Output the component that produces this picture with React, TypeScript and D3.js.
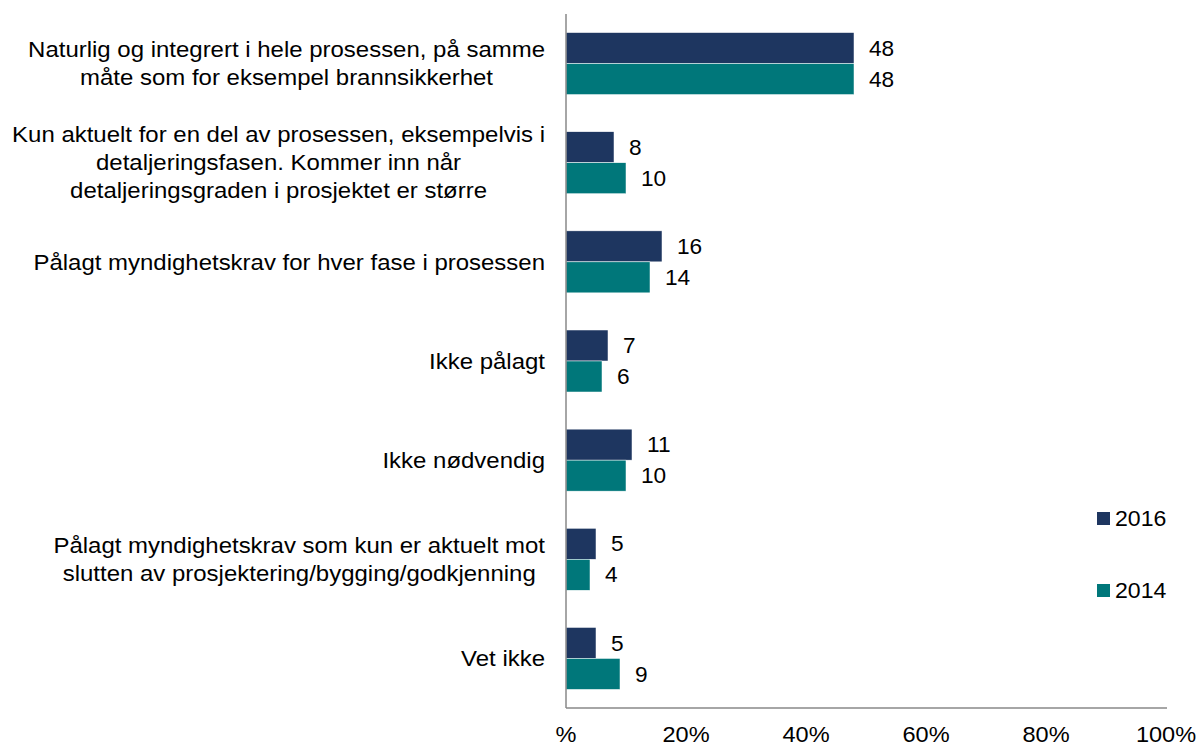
import React, { useEffect, useRef } from "react";
import * as d3 from "d3";

const categories: string[][] = [
  ["Naturlig og integrert i hele prosessen, på samme", "måte som for eksempel brannsikkerhet"],
  ["Kun aktuelt for en del av prosessen, eksempelvis i", "detaljeringsfasen. Kommer inn når", "detaljeringsgraden i prosjektet er større"],
  ["Pålagt myndighetskrav for hver fase i prosessen"],
  ["Ikke pålagt"],
  ["Ikke nødvendig"],
  ["Pålagt myndighetskrav som kun er aktuelt mot", "slutten av prosjektering/bygging/godkjenning"],
  ["Vet ikke"],
];
const values2016: number[] = [48, 8, 16, 7, 11, 5, 5];
const values2014: number[] = [48, 10, 14, 6, 10, 4, 9];
const seriesNames: string[] = ["2016", "2014"];
const xTicks: number[] = [0, 20, 40, 60, 80, 100];
const xTickLabels: string[] = ["%", "20%", "40%", "60%", "80%", "100%"];

const COLORS = ["#1E3660", "#00777A"];
const FONT = "'Liberation Sans', Arial, sans-serif";
const FS = 22;
const SX = 1.09;

export default function App() {
  const ref = useRef<SVGSVGElement>(null);
  useEffect(() => {
    const svg = d3.select(ref.current);
    svg.selectAll("*").remove();
    const left = 566, right = 1166, top = 14, bottom = 708;
    const x = d3.scaleLinear().domain([0, 100]).range([left, right]);
    const y = d3.scaleBand<number>().domain(d3.range(categories.length)).range([top, bottom]);
    const barH = 31;
    const seriesVals = [values2016, values2014];

    const g = svg.append("g");
    const addText = (px: number, py: number, s: string, anchor: string, sx = SX) =>
      g.append("text")
        .attr("transform", `translate(${px},${py}) scale(${sx},1)`)
        .attr("dy", "0.35em")
        .attr("font-family", FONT)
        .attr("font-size", FS)
        .attr("fill", "#000")
        .attr("text-anchor", anchor)
        .text(s);

    // bars
    seriesVals.forEach((vals, si) => {
      g.selectAll(null)
        .data(vals)
        .enter()
        .append("rect")
        .attr("x", x(0))
        .attr("y", (_d, i) => (y(i) as number) + y.bandwidth() / 2 - barH + si * barH)
        .attr("width", (d) => x(d) - x(0))
        .attr("height", barH)
        .attr("fill", COLORS[si])
        .attr("stroke", "#ffffff")
        .attr("stroke-width", 0.5);
      vals.forEach((d, i) => {
        addText(x(d) + 15, (y(i) as number) + y.bandwidth() / 2 - barH / 2 + si * barH, String(d), "start", 1.03);
      });
    });

    // axes lines
    g.append("line").attr("x1", left).attr("x2", left).attr("y1", top).attr("y2", bottom).attr("stroke", "#898989").attr("stroke-width", 1.5);
    g.append("line").attr("x1", left).attr("x2", right + 1).attr("y1", bottom).attr("y2", bottom).attr("stroke", "#898989").attr("stroke-width", 1.5);

    // x tick labels
    xTicks.forEach((d, i) => addText(x(d), 734, xTickLabels[i], "middle", 1.07));

    // category labels
    const lineH = 28;
    const labelRight = 545;
    categories.forEach((lines, i) => {
      const cy = (y(i) as number) + y.bandwidth() / 2;
      const texts = lines.map((ln, j) => addText(0, cy + (j - (lines.length - 1) / 2) * lineH, ln, "middle"));
      const widths = texts.map((t) => (t.node() as SVGTextElement).getComputedTextLength() * SX);
      const maxW = d3.max(widths) || 0;
      texts.forEach((t, j) =>
        t.attr("transform", `translate(${labelRight - maxW / 2},${cy + (j - (lines.length - 1) / 2) * lineH}) scale(${SX},1)`)
      );
    });

    // legend
    const legendY = [518, 590];
    seriesNames.forEach((name, si) => {
      g.append("rect").attr("x", 1097).attr("y", legendY[si] - 6).attr("width", 13).attr("height", 13).attr("fill", COLORS[si]);
      addText(1115, legendY[si], name, "start", 1.05);
    });
  }, []);
  return (
    <div style={{ position: "absolute", left: 0, top: 0 }}>
      <svg ref={ref} width={1200} height={747} style={{ display: "block", background: "#fff" }} />
    </div>
  );
}
